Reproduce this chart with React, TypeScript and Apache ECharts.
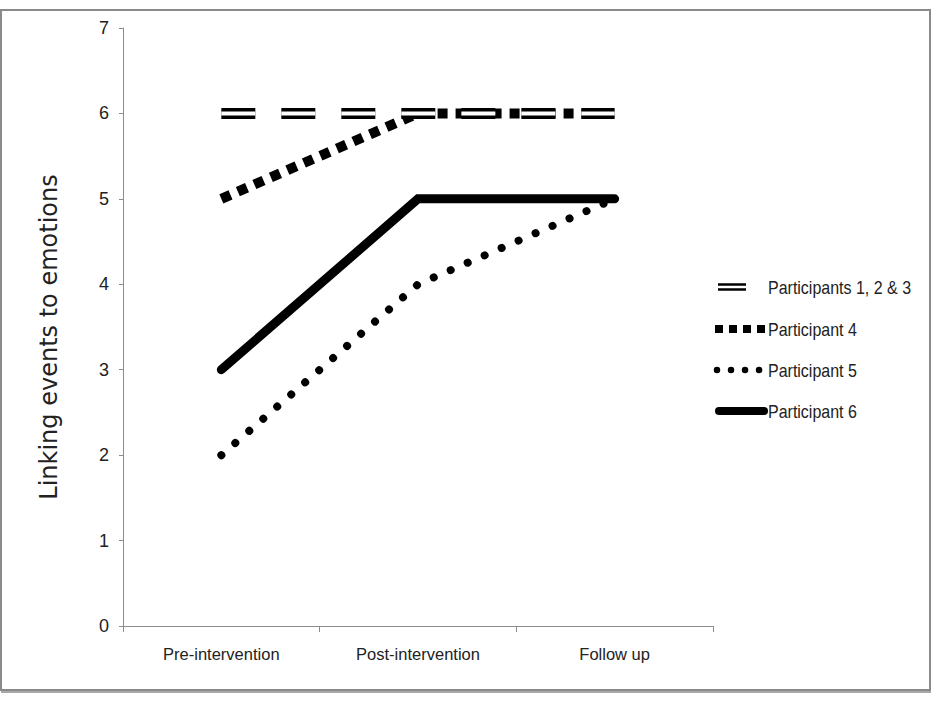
import React, { useEffect, useRef } from "react";
import * as echarts from "echarts";

const categories = ["Pre-intervention", "Post-intervention", "Follow up"];
const yTicks = [0, 1, 2, 3, 4, 5, 6, 7];
const p123 = [6, 6, 6];
const p4 = [5, 6, 6];
const p5 = [2, 4, 5];
const p6 = [3, 5, 5];
const legendNames = ["Participants 1, 2 & 3", "Participant 4", "Participant 5", "Participant 6"];

const NARROW = '"Liberation Sans", Arial, sans-serif';

export default function App() {
  const ref = useRef<HTMLDivElement>(null);
  useEffect(() => {
    document.body.style.margin = "0";
    const chart = echarts.init(ref.current!, null, { renderer: "svg" });
    const lx = 716;
    const legendY = [287, 329, 370, 411];
    const legendTextX = 768;
    chart.setOption({
      animation: false,
      backgroundColor: "#ffffff",
      grid: { left: 123, right: 220, top: 28, bottom: 76, containLabel: false },
      xAxis: {
        type: "category",
        data: categories,
        boundaryGap: true,
        axisLine: { lineStyle: { color: "#8c8c8c", width: 1 } },
        axisTick: { show: true, length: 6, lineStyle: { color: "#8c8c8c" } },
        axisLabel: { interval: 0, color: "#222", fontFamily: NARROW, fontSize: 16.5, margin: 19 },
        splitLine: { show: false },
      },
      yAxis: {
        type: "value",
        min: yTicks[0],
        max: yTicks[yTicks.length - 1],
        interval: 1,
        name: "Linking events to emotions",
        nameLocation: "middle",
        nameGap: 62,
        nameTextStyle: {
          color: "#222",
          fontFamily: '"DejaVu Sans", sans-serif',
          fontSize: 24,
          padding: [0, 20, 0, 0],
        },
        axisLine: { show: true, lineStyle: { color: "#8c8c8c", width: 1 } },
        axisTick: { show: true, length: 4, lineStyle: { color: "#8c8c8c" } },
        axisLabel: { color: "#222", fontFamily: NARROW, fontSize: 18, margin: 14 },
        splitLine: { show: false },
      },
      series: [
        {
          name: legendNames[3],
          type: "line",
          data: p6,
          showSymbol: false,
          lineStyle: { color: "#000", width: 9, cap: "round", join: "miter" },
        },
        {
          name: legendNames[2],
          type: "line",
          data: p5,
          showSymbol: false,
          lineStyle: { color: "#000", width: 8, cap: "round", type: [0.01, 18.5] },
        },
        {
          name: legendNames[1],
          type: "line",
          data: p4,
          showSymbol: false,
          lineStyle: { color: "#000", width: 10, cap: "butt", type: [10, 8] },
        },
        {
          name: legendNames[0],
          type: "line",
          data: p123,
          showSymbol: false,
          lineStyle: { color: "#000", width: 11, cap: "butt", type: [34, 26] },
        },
        {
          name: legendNames[0] + " inner",
          type: "line",
          data: p123,
          showSymbol: false,
          lineStyle: { color: "#fff", width: 4, cap: "butt", type: [34, 26] },
        },
      ],
      graphic: [
        {
          type: "rect",
          shape: { x: 1, y: 10, width: 929, height: 680 },
          style: { fill: "none", stroke: "#8a8a8a", lineWidth: 2 },
          silent: true,
        },
        {
          type: "line",
          shape: { x1: 1, y1: 692, x2: 931, y2: 692 },
          style: { stroke: "#a8a8a8", lineWidth: 2 },
        },
        { type: "line", shape: { x1: 718, y1: legendY[0] - 2.5, x2: 746, y2: legendY[0] - 2.5 }, style: { stroke: "#000", lineWidth: 2.5 } },
        { type: "line", shape: { x1: 718, y1: legendY[0] + 2.5, x2: 746, y2: legendY[0] + 2.5 }, style: { stroke: "#000", lineWidth: 2.5 } },
        { type: "line", shape: { x1: lx - 1, y1: legendY[1], x2: 767, y2: legendY[1] }, style: { stroke: "#000", lineWidth: 8, lineDash: [8, 6] } },
        { type: "line", shape: { x1: lx + 1, y1: legendY[2], x2: 760, y2: legendY[2] }, style: { stroke: "#000", lineWidth: 6.5, lineCap: "round", lineDash: [0.01, 14] } },
        { type: "line", shape: { x1: lx + 3, y1: legendY[3], x2: 764, y2: legendY[3] }, style: { stroke: "#000", lineWidth: 8, lineCap: "round" } },
        ...legendNames.map((n, i) => ({
          type: "text",
          x: legendTextX,
          y: legendY[i],
          scaleY: 1.2,
          style: {
            text: n,
            fill: "#222",
            font: `16px ${NARROW}`,
            verticalAlign: "middle",
            align: "left",
          },
        })),
      ],
    });
    return () => chart.dispose();
  }, []);
  return <div ref={ref} style={{ width: 933, height: 702 }} />;
}
